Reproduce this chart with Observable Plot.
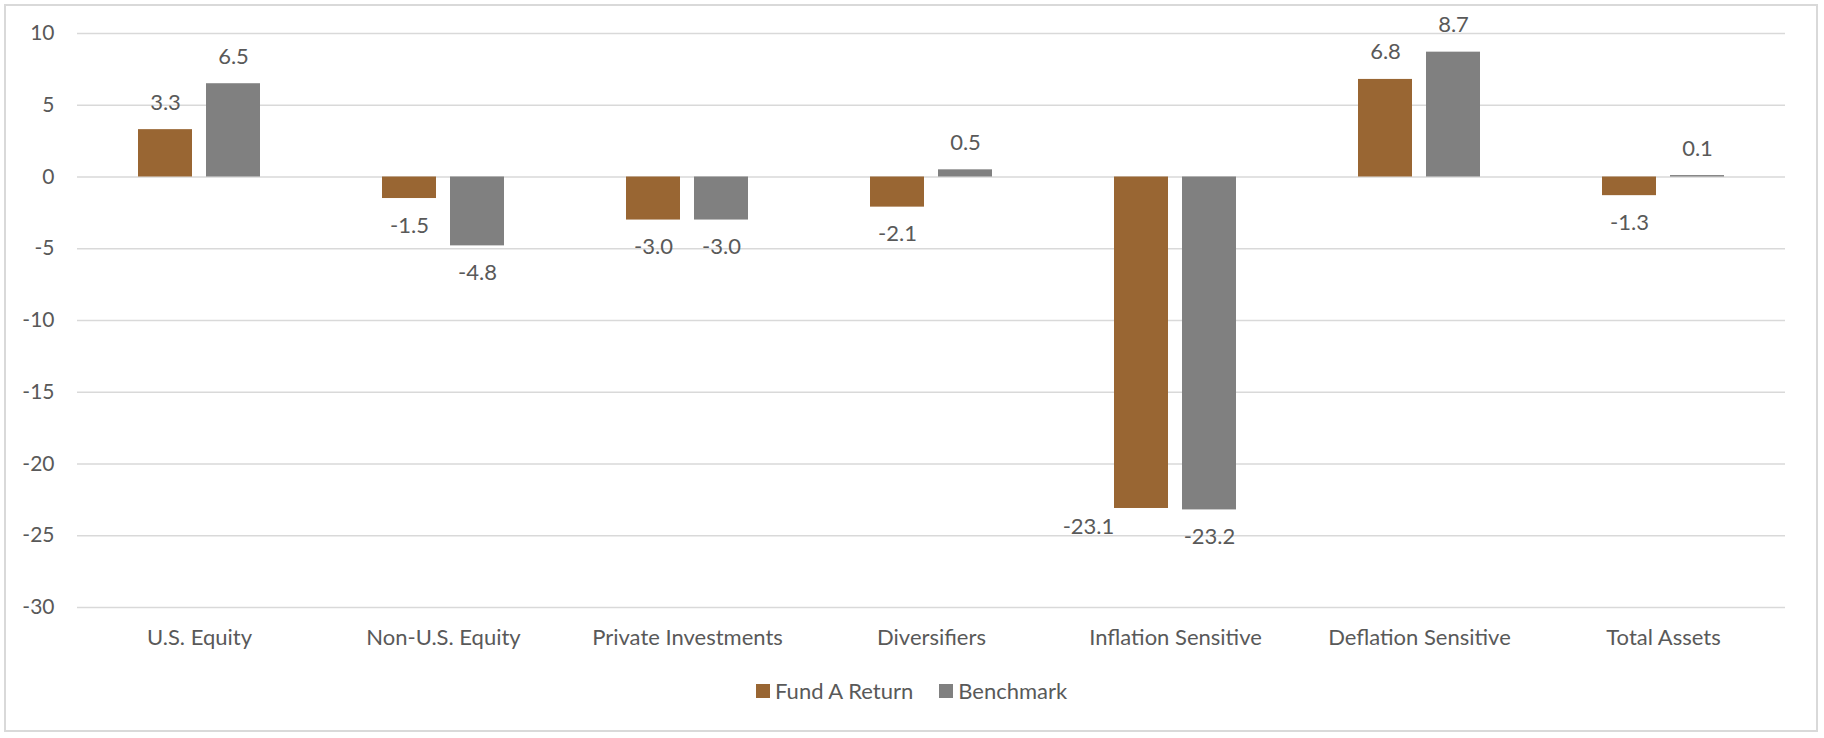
<!DOCTYPE html>
<html>
<head>
<meta charset="utf-8">
<script src="https://cdn.jsdelivr.net/npm/d3@7"></script>
<script src="https://cdn.jsdelivr.net/npm/@observablehq/plot@0.6"></script>
<style>
  html, body { margin: 0; padding: 0; background: #fff; }
  #wrap { position: relative; width: 1824px; height: 738px; overflow: hidden; font-family: Lato, "Open Sans", sans-serif; color: #595959; }
  #frame { position: absolute; left: 4px; top: 4px; width: 1814px; height: 728px; border: 2px solid #d9d9d9; box-sizing: border-box; }
  #chart { position: absolute; left: 0; top: 0; }
  #chart g[aria-label="y-axis tick label"] { font-size: 21px; }
  #legend { position: absolute; left: 756px; top: 677px; display: flex; align-items: center; font-size: 22px; line-height: 28px; }
  .item { display: flex; align-items: center; margin-right: 26px; }
  .sw { width: 14px; height: 14px; margin-right: 5px; }
</style>
</head>
<body>
<div id="wrap">
  <div id="frame"></div>
  <div id="chart"></div>
  <div id="legend"></div>
</div>
<script>
const categories = ["U.S. Equity", "Non-U.S. Equity", "Private Investments", "Diversifiers", "Inflation Sensitive", "Deflation Sensitive", "Total Assets"];
const series = ["Fund A Return", "Benchmark"];
const fundReturn = [3.3, -1.5, -3.0, -2.1, -23.1, 6.8, -1.3];
const benchmark = [6.5, -4.8, -3.0, 0.5, -23.2, 8.7, 0.1];
const yTicks = [-30, -25, -20, -15, -10, -5, 0, 5, 10];
const colors = ["#996633", "#808080"];

const rows = [];
categories.forEach((c, i) => {
  rows.push({category: c, series: series[0], value: fundReturn[i]});
  rows.push({category: c, series: series[1], value: benchmark[i]});
});
const isShifted = d => d.category === "Inflation Sensitive" && d.series === "Fund A Return";

const chart = Plot.plot({
  width: 1824,
  height: 660,
  marginLeft: 75,
  marginRight: 37,
  marginTop: 33,
  marginBottom: 53,
  style: {fontFamily: "Lato, 'Open Sans', sans-serif", fontSize: "22px", color: "#595959", background: "transparent"},
  fx: {domain: categories, padding: 0, axis: "bottom", label: null, tickSize: 0, tickPadding: 22},
  x: {domain: series, axis: null, paddingInner: 0.2, paddingOuter: 0.87},
  y: {domain: [-30, 10], ticks: yTicks, tickSize: 0, tickPadding: 23, label: null, tickFormat: d => String(d)},
  color: {domain: series, range: colors},
  marks: [
    Plot.ruleY(yTicks, {stroke: "#d9d9d9", strokeWidth: 1.6}),
    Plot.barY(rows, {fx: "category", x: "series", y: "value", fill: "series"}),
    Plot.text(rows.filter(d => d.value >= 0), {fx: "category", x: "series", y: "value", text: d => d.value.toFixed(1), dy: -27, lineAnchor: "middle", fontSize: 22, fill: "#595959"}),
    Plot.text(rows.filter(d => d.value < 0 && !isShifted(d)), {fx: "category", x: "series", y: "value", text: d => d.value.toFixed(1), dy: 27, lineAnchor: "middle", fontSize: 22, fill: "#595959"}),
    Plot.text(rows.filter(isShifted), {fx: "category", x: "series", y: "value", text: d => d.value.toFixed(1), dx: -53, dy: 18, lineAnchor: "middle", fontSize: 22, fill: "#595959"})
  ]
});
document.getElementById("chart").appendChild(chart);

const legend = document.getElementById("legend");
series.forEach((s, i) => {
  const item = document.createElement("div");
  item.className = "item";
  const sw = document.createElement("div");
  sw.className = "sw";
  sw.style.background = colors[i];
  const label = document.createElement("span");
  label.textContent = s;
  item.appendChild(sw);
  item.appendChild(label);
  legend.appendChild(item);
});
</script>
</body>
</html>
